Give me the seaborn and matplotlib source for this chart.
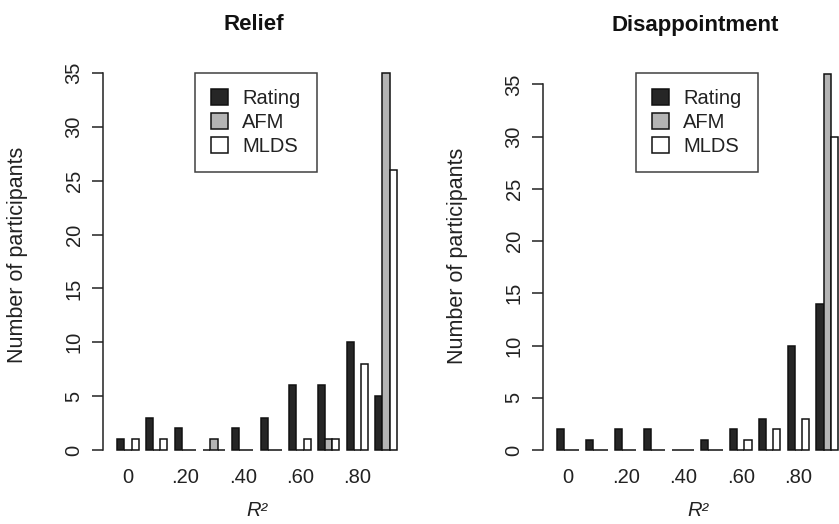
import matplotlib
matplotlib.use("Agg")
import matplotlib.pyplot as plt
from matplotlib.patches import Patch
import seaborn as sns
import pandas as pd

bins = ["0", ".10", ".20", ".30", ".40", ".50", ".60", ".70", ".80", ".90"]
methods = ["Rating", "AFM", "MLDS"]

relief_rating = [1, 3, 2, 0, 2, 3, 6, 6, 10, 5]
relief_afm = [0, 0, 0, 1, 0, 0, 0, 1, 0, 35]
relief_mlds = [1, 1, 0, 0, 0, 0, 1, 1, 8, 26]

disap_rating = [2, 1, 2, 2, 0, 1, 2, 3, 10, 14]
disap_afm = [0, 0, 0, 0, 0, 0, 0, 0, 0, 36]
disap_mlds = [0, 0, 0, 0, 0, 0, 1, 2, 3, 30]

tick_labels = ["0", ".20", ".40", ".60", ".80"]
tick_bins = ["0", ".20", ".40", ".60", ".80"]
yticks = [0, 5, 10, 15, 20, 25, 30, 35]

colors = {"Rating": "#262626", "AFM": "#b4b4b4", "MLDS": "#ffffff"}


def long_df(r, a, m):
    rows = []
    for name, vals in zip(methods, [r, a, m]):
        for b, v in zip(bins, vals):
            rows.append({"bin": b, "method": name, "count": v})
    return pd.DataFrame(rows)


sns.set_style("white")
plt.rcParams["font.family"] = ["Liberation Sans", "DejaVu Sans"]

W, H = 839, 524
fig = plt.figure(figsize=(W / 100, H / 100), dpi=100)


def make_axes(left_px, x0_px, spacing, ymax_tick, ytop_px, ylim_top, xmax):
    y0_px = 450
    ppu = (y0_px - ytop_px) / ymax_tick
    xmin = -(x0_px - left_px) / spacing
    width_px = (xmax - xmin) * spacing
    height_px = ylim_top * ppu
    ax = fig.add_axes([left_px / W, (H - y0_px) / H, width_px / W, height_px / H])
    ax.set_xlim(xmin, xmax)
    ax.set_ylim(0, ylim_top)
    return ax


panels = [
    ("Relief", long_df(relief_rating, relief_afm, relief_mlds), 103, 128, 28.67, 35, 73, 36.2, 254, 195),
    ("Disappointment", long_df(disap_rating, disap_afm, disap_mlds), 543, 568, 28.8, 36, 74, 37.2, 695, 636),
]

FS = 14.5

for title, df, left_px, x0_px, spacing, mx, ytop, ylt, title_x, leg_x in panels:
    ax = make_axes(left_px, x0_px, spacing, mx, ytop, ylt, 9.9)
    sns.barplot(data=df, x="bin", y="count", hue="method", order=bins,
                hue_order=methods, palette=colors, edgecolor="#111111",
                linewidth=1.1, width=0.75, saturation=1, ax=ax, legend=False)
    ax.set_xlim(-(x0_px - left_px) / spacing, 9.9)
    ax.set_ylim(0, ylt)
    for p in ax.patches:
        p.set_clip_on(False)
    for s in ["top", "right", "bottom"]:
        ax.spines[s].set_visible(False)
    ax.spines["left"].set_bounds(0, 35)
    ax.spines["left"].set_color("#222222")
    ax.spines["left"].set_linewidth(1.1)
    ax.set_yticks(yticks)
    ax.set_yticklabels([str(v) for v in yticks], rotation=90, va="center",
                       fontsize=FS, color="#222222")
    ax.tick_params(axis="y", direction="out", length=8, width=1.1,
                   color="#222222", pad=6, left=True)
    ax.set_xticks([bins.index(b) for b in tick_bins])
    ax.set_xticklabels(tick_labels, fontsize=FS, color="#222222")
    ax.tick_params(axis="x", length=0, pad=13)
    ax.set_xlabel("R²", fontsize=FS, style="italic", labelpad=10, color="#222222")
    ax.set_ylabel("Number of participants", fontsize=15.5, labelpad=26, color="#222222")
    ax.grid(False)
    fig.text(title_x / W, 1 - 25 / H, title, ha="center", va="center",
             fontsize=16, fontweight="bold", color="#111111")
    handles = [Patch(facecolor=colors[m], edgecolor="#111111", linewidth=1.1) for m in methods]
    leg = ax.legend(handles, methods, loc="upper left",
                    bbox_to_anchor=(leg_x / W, 1 - 73 / H), bbox_transform=fig.transFigure,
                    borderaxespad=0, fontsize=FS, frameon=True, fancybox=False,
                    handlelength=0.85, handleheight=0.85, handletextpad=0.7,
                    labelspacing=0.25, borderpad=0.8)
    leg.get_frame().set_edgecolor("#111111")
    leg.get_frame().set_linewidth(1.1)
    for t in leg.get_texts():
        t.set_color("#222222")

fig.savefig("out.png", dpi=100)
